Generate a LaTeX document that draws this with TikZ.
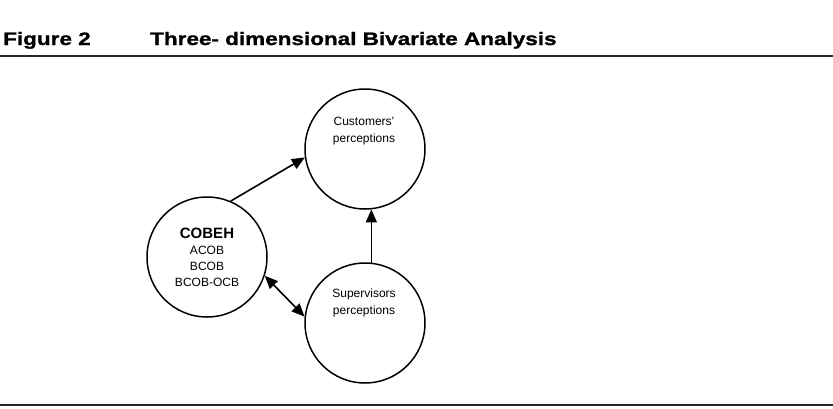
\documentclass[tikz,border=0pt]{standalone}
\usepackage{fontspec}
\setmainfont{Liberation Sans}
\newfontfamily\headfont[FakeStretch=1.25,FakeBold=1.3]{Liberation Sans Bold}
\usetikzlibrary{arrows.meta,positioning}

\begin{document}
\begin{tikzpicture}[
  x=1pt, y=-1pt,
  >={Triangle[length=13pt,width=11pt]},
  edge/.style={->, line width=1.6pt, draw=black},
  bothway/.style={<->, line width=1.6pt, draw=black},
  blob/.style={circle, draw=black, line width=1.5pt, minimum size=120pt,
               inner sep=0pt, align=center, font=\fontsize{12}{16}\selectfont},
  inner/.style={align=center, font=\fontsize{12}{17}\selectfont},
  head/.style={anchor=base west, inner sep=0pt, font=\headfont\fontsize{18}{20}\selectfont},
  rule/.style={line width=1.8pt, draw=black!85}
]
\useasboundingbox (0,0) rectangle (833,408);

% ---------- heading ----------
\node[head] (fig) at (3,45) {Figure 2};
\node[head] (ttl) at (150,45) {Three- dimensional Bivariate Analysis};
\coordinate (tl) at (0,56);
\coordinate (tr) at (833,56);
\draw[rule] (tl) -- (tr);

% ---------- circles ----------
\node[blob] (cobeh) at (207,257)
  {{\fontsize{15}{17}\selectfont\bfseries COBEH}\\ACOB\\BCOB\\BCOB-OCB};
\node[blob] (cust) at (365,149) {};
\node[blob] (sup)  at (365,323) {};
\node[inner] (custtxt) at (364,131) {Customers'\\perceptions};
\node[inner] (suptxt)  at (364,303) {Supervisors\\perceptions};

% ---------- edges ----------
\draw[edge] (cobeh.67) -- (cust.188);
\draw[edge] (sup.84) -- (cust.276);
\draw[bothway] (cobeh.342) -- (sup.174);

% ---------- bottom rule ----------
\coordinate (bl) at (0,405);
\coordinate (br) at (833,405);
\draw[line width=1.5pt, draw=black!85] (bl) -- (br);

\end{tikzpicture}
\end{document}
